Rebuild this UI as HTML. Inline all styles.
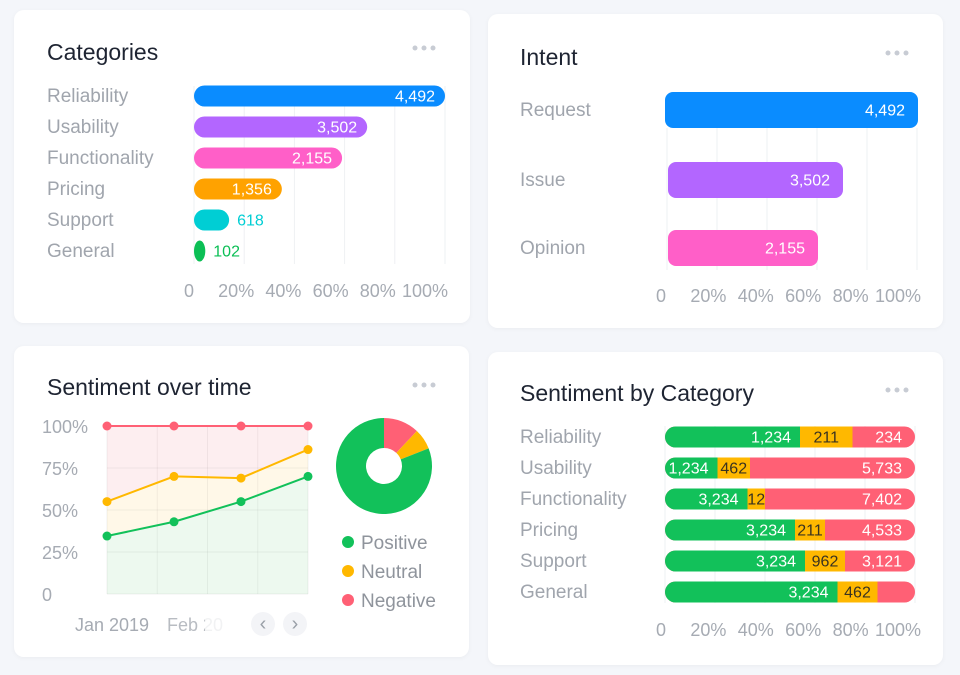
<!DOCTYPE html>
<html><head><meta charset="utf-8"><style>
html,body{margin:0;padding:0;background:#f4f6fa;}
svg{display:block;font-family:"Liberation Sans",sans-serif;}
</style></head><body>
<svg id="s" width="960" height="675" viewBox="0 0 960 675">
<defs><filter id="sh" x="-5%" y="-5%" width="110%" height="110%"><feDropShadow dx="0" dy="1" stdDeviation="2" flood-color="#000" flood-opacity="0.04"/></filter></defs>
<rect x="0" y="0" width="960" height="675" fill="#f4f6fa"/>
<rect x="14" y="10" width="456" height="313" rx="10" fill="#fff" filter="url(#sh)"/>
<rect x="488" y="14" width="455" height="314" rx="10" fill="#fff" filter="url(#sh)"/>
<rect x="14" y="346" width="455" height="311" rx="10" fill="#fff" filter="url(#sh)"/>
<rect x="488" y="352" width="455" height="313" rx="10" fill="#fff" filter="url(#sh)"/>
<g font-size="23" fill="#1e2432">
<text x="47" y="60">Categories</text>
<text x="520" y="65">Intent</text>
<text x="47" y="395">Sentiment over time</text>
<text x="520" y="401">Sentiment by Category</text>
</g>
<g fill="#c8ccd4">
<g><circle cx="415" cy="48" r="2.5"/><circle cx="424" cy="48" r="2.5"/><circle cx="433" cy="48" r="2.5"/></g>
<g><circle cx="888" cy="53" r="2.5"/><circle cx="897" cy="53" r="2.5"/><circle cx="906" cy="53" r="2.5"/></g>
<g><circle cx="415" cy="385" r="2.5"/><circle cx="424" cy="385" r="2.5"/><circle cx="433" cy="385" r="2.5"/></g>
<g><circle cx="888" cy="390" r="2.5"/><circle cx="897" cy="390" r="2.5"/><circle cx="906" cy="390" r="2.5"/></g>
</g>
<g id="c1"></g><g id="c2"></g><g id="c3"></g><g id="c4"></g>
</svg>
<script>
// Categories
const catLabels=["Reliability","Usability","Functionality","Pricing","Support","General"];
const catValues=["4,492","3,502","2,155","1,356","618","102"];
const catPct=[100,69,59,35,14,4.5];
const catColors=["#0a8cff","#b366ff","#ff5fc8","#ffa200","#00ced4","#0bbf55"];
const tickLabels=["0","20%","40%","60%","80%","100%"];
const tickVals=[0,20,40,60,80,100];
// Intent
const intLabels=["Request","Issue","Opinion"];
const intValues=["4,492","3,502","2,155"];
const intPct=[100,70,60];
const intColors=["#0a8cff","#b366ff","#ff5fc8"];
// Sentiment over time (cumulative %)
const timeLabels=["Jan 2019","Feb 2019"];
const posLine=[34.5,43,55,70];
const neuLine=[55,70,69,86];
const negLine=[100,100,100,100];
const yTicks=["0","25%","50%","75%","100%"];
const yTickVals=[0,25,50,75,100];
const donutNames=["Positive","Neutral","Negative"];
const donutVals=[81,7,12];
// Sentiment by category (segment widths %)
const sbcLabels=["Reliability","Usability","Functionality","Pricing","Support","General"];
const sbcPos=[54,21,33,52,56,69];
const sbcNeu=[21,13,7,12,16,16];
const sbcPosTxt=["1,234","1,234","3,234","3,234","3,234","3,234"];
const sbcNeuTxt=["211","462","12","211","962","462"];
const sbcNegTxt=["234","5,733","7,402","4,533","3,121",""];
const SG="#12c15a",SY="#ffb800",SR="#ff6075";

const NS="http://www.w3.org/2000/svg";
function mk(p,t,a,txt){const e=document.createElementNS(NS,t);for(const k in a)e.setAttribute(k,a[k]);if(txt!==undefined)e.textContent=txt;p.appendChild(e);return e;}

// chart 1
(function(){const g=document.getElementById('c1');const x0=194,x1=445;const sx=v=>x0+(x1-x0)*v/100;
const tx=v=>189+(425-189)*v/100;
tickVals.forEach((v,i)=>{const l=mk(g,'line',{x1:sx(v),x2:sx(v),y1:86,y2:264,stroke:'#eef0f3'});


const t=mk(g,'text',{x:tx(v),y:297,'text-anchor':'middle','font-size':18,fill:'#a6abb3'},tickLabels[i]);

});
catLabels.forEach((c,i)=>{const cy=96+31*i;
const t=mk(g,'text',{x:47,y:cy+6,'font-size':19,fill:'#a0a5ad'},c);


const w=sx(catPct[i])-x0;
const r=mk(g,'rect',{x:x0,y:cy-10.5,width:Math.max(w,11),height:21,rx:10.5,fill:catColors[i]});


const inside=w>60;
const v=mk(g,'text',{x:inside?x0+w-10:x0+w+8,y:cy+5.5,'font-size':16,'text-anchor':inside?'end':'start',fill:inside?'#fff':catColors[i]},catValues[i]);

});})();

// chart 2
(function(){const g=document.getElementById('c2');const x0=667,x1=917;const sx=v=>x0+(x1-x0)*v/100;
const tx=v=>661+(898-661)*v/100;
tickVals.forEach((v,i)=>{const l=mk(g,'line',{x1:sx(v),x2:sx(v),y1:128,y2:270,stroke:'#eef0f3'});


const t=mk(g,'text',{x:tx(v),y:302,'text-anchor':'middle','font-size':18,fill:'#a6abb3'},tickLabels[i]);

});
const ys=[110,180,248];
intLabels.forEach((c,i)=>{const cy=ys[i];
const t=mk(g,'text',{x:520,y:cy+6,'font-size':19,fill:'#a0a5ad'},c);


const bx=i==0?665:668;const w=sx(intPct[i])-bx+1;
const r=mk(g,'rect',{x:bx,y:cy-18,width:w,height:36,rx:8,fill:intColors[i]});


const v=mk(g,'text',{x:bx+w-13,y:cy+5.5,'font-size':16,'text-anchor':'end',fill:'#fff'},intValues[i]);

});})();

// chart 3
(function(){const g=document.getElementById('c3');const x0=107,x1=308,y0=594,y1=426;
const sy=v=>y0-(y0-y1)*v/100;const sx=i=>x0+(x1-x0)*i/(posLine.length-1);
function area(top,bot,fill,name){let d='M'+top.map((v,i)=>sx(i)+','+sy(v)).join('L');
for(let i=bot.length-1;i>=0;i--)d+='L'+sx(i)+','+sy(bot[i]);const p=mk(g,'path',{d:d+'Z',fill:fill});

}
area(negLine,neuLine,'#fdeef0','negative-area');
area(neuLine,posLine,'#fff8e8','neutral-area');
area(posLine,[0,0,0,0],'#edf9ef','positive-area');
[0,1,2,3,4].forEach(k=>{const gx=x0+(x1-x0)*k/4;const l=mk(g,'line',{x1:gx,x2:gx,y1:y1,y2:y0,stroke:'#000','stroke-opacity':0.05});

});
yTickVals.forEach((v,i)=>{const l=mk(g,'line',{x1:x0,x2:x1,y1:sy(v),y2:sy(v),stroke:'#000','stroke-opacity':0.05});


const t=mk(g,'text',{x:42,y:sy(v)+7,'font-size':18,fill:'#a6abb3'},yTicks[i]);

});
[[negLine,SR,'negative'],[neuLine,SY,'neutral'],[posLine,SG,'positive']].forEach(([arr,c,n])=>{
const l=mk(g,'polyline',{points:arr.map((v,i)=>sx(i)+','+sy(v)).join(' '),fill:'none',stroke:c,'stroke-width':2});


arr.forEach((v,i)=>{const p=mk(g,'circle',{cx:sx(i),cy:sy(v),r:4.5,fill:c});

});});
const t1=mk(g,'text',{x:75,y:631,'font-size':18,fill:'#a6abb3'},timeLabels[0]);


const t2=mk(g,'text',{x:167,y:631,'font-size':18,fill:'#a6abb3','fill-opacity':0.8},timeLabels[1].slice(0,6));


const fr=mk(g,'rect',{x:205,y:610,width:30,height:28,fill:'#fff','fill-opacity':0.8});


[[263,'‹','prev-button'],[295,'›','next-button']].forEach(([cx,ch,n])=>{const b=mk(g,'g',{});


mk(b,'circle',{cx:cx,cy:624,r:12,fill:'#f3f4f7'});mk(b,'text',{x:cx,y:630,'text-anchor':'middle','font-size':20,fill:'#9aa0a8'},ch);});
const cx=384,cy=466,R=48,r=18;const cols=[SG,SY,SR];const tot=donutVals.reduce((a,b)=>a+b,0);
let a=0;[2,1,0].forEach(k=>{const f=donutVals[k]/tot;const a0=a*2*Math.PI,a1=(a+f)*2*Math.PI;a+=f;
const P=(rr,an)=>(cx+rr*Math.sin(an))+','+(cy-rr*Math.cos(an));const lg=f>0.5?1:0;
const p=mk(g,'path',{d:`M${P(R,a0)}A${R},${R} 0 ${lg} 1 ${P(R,a1)}L${P(r,a1)}A${r},${r} 0 ${lg} 0 ${P(r,a0)}Z`,fill:cols[k]});

});
donutNames.forEach((n,i)=>{const e=mk(g,'g',{});


mk(e,'circle',{cx:348,cy:542+29*i,r:6,fill:cols[i]});mk(e,'text',{x:361,y:549+29*i,'font-size':19,fill:'#8f949c'},n);});})();

// chart 4
(function(){const g=document.getElementById('c4');const x0=665,x1=915;const sx=v=>x0+(x1-x0)*v/100;
tickVals.forEach((v,i)=>{const l=mk(g,'line',{x1:sx(v),x2:sx(v),y1:426,y2:603,stroke:'#eef0f3'});


const t=mk(g,'text',{x:661+(898-661)*v/100,y:636,'text-anchor':'middle','font-size':18,fill:'#a6abb3'},tickLabels[i]);

});
sbcLabels.forEach((c,i)=>{const cy=437+31*i;
const t=mk(g,'text',{x:520,y:cy+6,'font-size':19,fill:'#a0a5ad'},c);


const cid='cl'+i;const cp=mk(g,'clipPath',{id:cid});mk(cp,'rect',{x:x0,y:cy-10.5,width:x1-x0,height:21,rx:10.5});
const bg=mk(g,'g',{'clip-path':`url(#${cid})`});


const xp=sx(sbcPos[i]),xn=sx(sbcPos[i]+sbcNeu[i]);
mk(bg,'rect',{x:x0,y:cy-10.5,width:x1-x0,height:21,fill:SR});
mk(bg,'rect',{x:x0,y:cy-10.5,width:xp-x0,height:21,fill:SG});
mk(bg,'rect',{x:xp,y:cy-10.5,width:xn-xp,height:21,fill:SY});
const v1=mk(g,'text',{x:xp-9,y:cy+5.5,'font-size':16,'text-anchor':'end',fill:'#fff'},sbcPosTxt[i]);


const v2=mk(g,'text',{x:(xp+xn)/2,y:cy+5.5,'font-size':16,'text-anchor':'middle',fill:'#3a3320'},sbcNeuTxt[i]);


const v3=mk(g,'text',{x:x1-13,y:cy+5.5,'font-size':16,'text-anchor':'end',fill:'#fff'},sbcNegTxt[i]);

});})();
</script>
</body></html>
